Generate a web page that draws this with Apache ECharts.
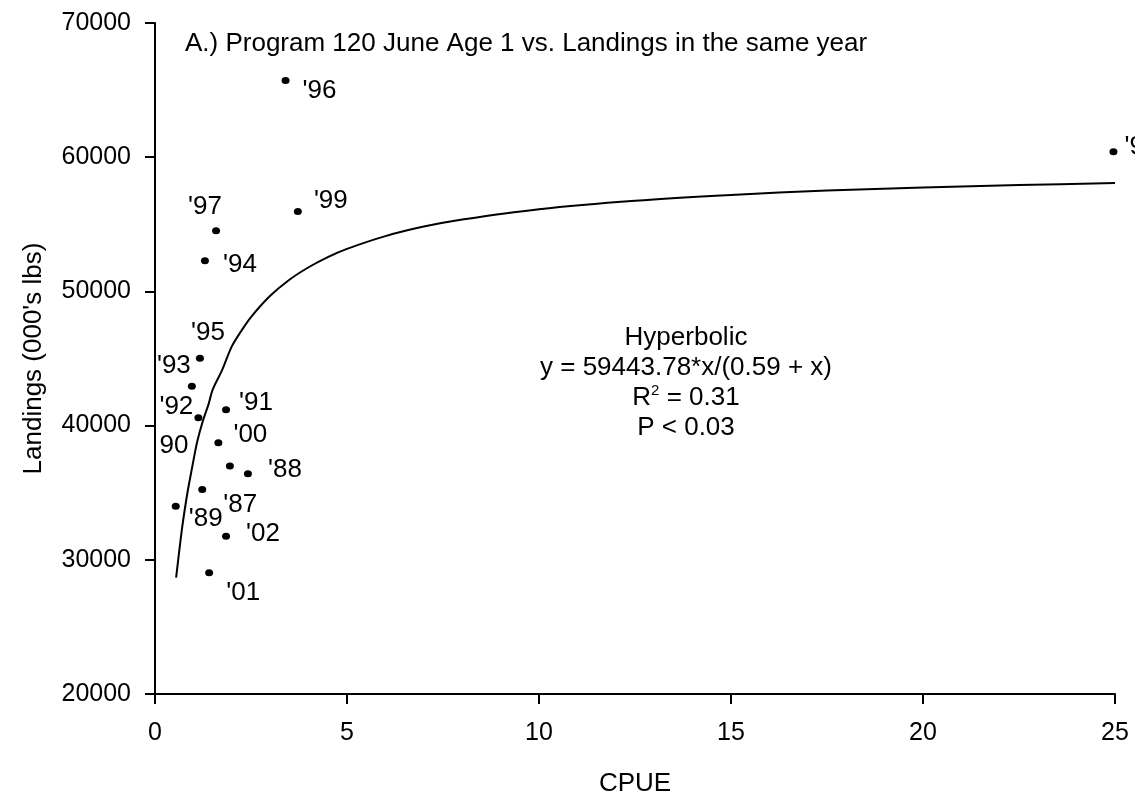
<!DOCTYPE html>
<html>
<head>
<meta charset="utf-8">
<script src="https://cdn.jsdelivr.net/npm/echarts@6/dist/echarts.min.js"></script>
<style>
html,body{margin:0;padding:0;background:#fff;}
#chart{width:1135px;height:802px;}
</style>
</head>
<body>
<div id="chart"></div>
<script>
// ---- data ----
const years = ["'87","'88","'89","90","'91","'92","'93","'94","'95","'96","'97","'98","'99","'00","'01","'02"];
const cpue = [1.23, 2.42, 0.54, 1.95, 1.85, 1.13, 0.96, 1.30, 1.17, 3.40, 1.59, 24.96, 3.72, 1.65, 1.41, 1.85];
const landings = [35230, 36420, 33990, 36990, 41180, 40590, 42940, 52290, 45020, 65710, 54520, 60400, 55960, 38730, 29030, 31760];
// fitted hyperbolic curve, sampled along the drawn line
const curveX = [0.55, 0.62, 0.7, 0.78, 0.85, 0.92, 1.0, 1.1, 1.25, 1.4, 1.5, 1.75, 2, 2.25, 2.5, 3, 3.5, 4, 4.5, 5, 6, 7, 8, 10, 12.5, 15, 17.5, 20, 22.5, 25];
const curveY = [28680, 30380, 32260, 33840, 35090, 36170, 37390, 38820, 40380, 41640, 42660, 44150, 45900, 47070, 48090, 49670, 50870, 51800, 52560, 53170, 54120, 54830, 55360, 56130, 56760, 57190, 57510, 57740, 57920, 58070];
const xTicks = [0, 5, 10, 15, 20, 25];
const yTicks = [20000, 30000, 40000, 50000, 60000, 70000];
const titleText = "A.) Program 120 June Age 1 vs. Landings in the same year";
const fitLines = ["Hyperbolic", "y = 59443.78*x/(0.59 + x)", "R{sup|2} = 0.31", "P < 0.03"];

// ---- layout (label offsets in px relative to each dot) ----
const labelOffsets = [[38,15],[37,-4],[30,13],[-56,-20],[30,-7],[-22,-11],[-18,-20],[35,4],[8,-25],[34,10],[-11,-24],[28,-5],[33,-11],[32,-8],[34,20],[37,-2]];

const FONT = '"Liberation Sans", Arial, sans-serif';
const chart = echarts.init(document.getElementById('chart'), null, {renderer: 'canvas'});

const scatterData = cpue.map((x, i) => ({
  name: years[i],
  value: [x, landings[i]],
  label: {offset: labelOffsets[i]}
}));
const curveData = curveX.map((x, i) => [x, curveY[i]]);

chart.setOption({
  backgroundColor: '#fff',
  animation: false,
  grid: {left: 155, right: 20, top: 23, bottom: 108, containLabel: false},
  xAxis: {
    type: 'value', min: xTicks[0], max: xTicks[xTicks.length-1], interval: 5,
    name: 'CPUE', nameLocation: 'middle', nameGap: 77,
    nameTextStyle: {fontFamily: FONT, fontSize: 26, color: '#000'},
    axisLine: {show: true, onZero: false, lineStyle: {color: '#000', width: 2}},
    axisTick: {show: true, inside: false, length: 10, lineStyle: {color: '#000', width: 2}},
    axisLabel: {fontFamily: FONT, fontSize: 25, color: '#000', margin: 27, formatter: v => String(v)},
    splitLine: {show: false}
  },
  yAxis: {
    type: 'value', min: yTicks[0], max: yTicks[yTicks.length-1], interval: 10000,
    name: "Landings (000's lbs)", nameLocation: 'middle', nameGap: 108,
    nameTextStyle: {fontFamily: FONT, fontSize: 26, color: '#000'},
    axisLine: {show: true, onZero: false, lineStyle: {color: '#000', width: 2}},
    axisTick: {show: true, inside: false, length: 10, lineStyle: {color: '#000', width: 2}},
    axisLabel: {fontFamily: FONT, fontSize: 25, color: '#000', margin: 24, formatter: v => String(v)},
    splitLine: {show: false}
  },
  series: [
    {
      type: 'line', data: curveData, smooth: 0.3, showSymbol: false,
      lineStyle: {color: '#000', width: 2}, z: 2, silent: true
    },
    {
      type: 'scatter', data: scatterData, symbol: 'circle', symbolSize: [8, 7],
      itemStyle: {color: '#000', opacity: 1}, z: 3,
      label: {
        show: true, position: 'inside', formatter: p => p.name,
        fontFamily: FONT, fontSize: 26, color: '#000',
        align: 'center', verticalAlign: 'middle'
      }
    }
  ],
  graphic: [
    {
      type: 'text', left: 185, top: 31,
      style: {text: titleText, font: '26px ' + FONT, fill: '#000'}
    },
    {
      type: 'text', x: 686, y: 323,
      style: {
        text: fitLines.join('\n'), fill: '#000',
        fontFamily: FONT, fontSize: 26, lineHeight: 30,
        align: 'center', verticalAlign: 'top',
        rich: {sup: {fontFamily: FONT, fontSize: 15, verticalAlign: 'top', lineHeight: 30}}
      }
    }
  ]
});
</script>
</body>
</html>
